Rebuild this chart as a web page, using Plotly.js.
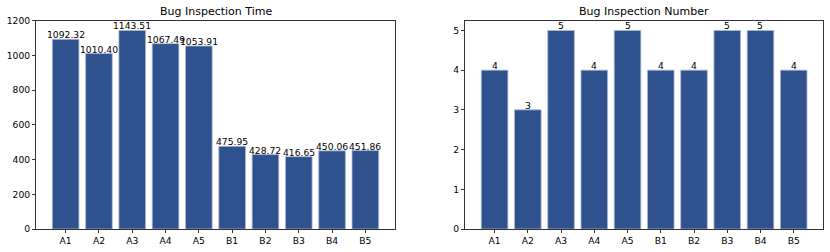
<!DOCTYPE html>
<html>
<head>
<meta charset="utf-8">
<script src="https://cdn.plot.ly/plotly-3.0.1.min.js"></script>
<style>html,body{margin:0;padding:0;background:#fff;}#chart{width:830px;height:252px;}</style>
</head>
<body>
<div id="chart"></div>
<script>
var categories = ["A1","A2","A3","A4","A5","B1","B2","B3","B4","B5"];
var inspectionTime = [1092.32, 1010.40, 1143.51, 1067.49, 1053.91, 475.95, 428.72, 416.65, 450.06, 451.86];
var inspectionNumber = [4, 3, 5, 4, 5, 4, 4, 5, 5, 4];
var titleTime = "Bug Inspection Time";
var titleNumber = "Bug Inspection Number";
var timeTicks = [0, 200, 400, 600, 800, 1000, 1200];
var numberTicks = [0, 1, 2, 3, 4, 5];

var barColor = "#2f518e";
var edgeColor = "#a9b9d3";
var fontFam = "DejaVu Sans, sans-serif";
var tickFont = {family: fontFam, size: 9.2, color: "#000"};

var xIdx = categories.map(function(_, i){ return i; });

var traces = [
  {type: "bar", x: xIdx, y: inspectionTime, xaxis: "x", yaxis: "y", width: 0.8,
   marker: {color: barColor, line: {color: edgeColor, width: 0.8}}, hoverinfo: "none"},
  {type: "bar", x: xIdx, y: inspectionNumber, xaxis: "x2", yaxis: "y2", width: 0.8,
   marker: {color: barColor, line: {color: edgeColor, width: 0.8}}, hoverinfo: "none"}
];

var annotations = [];
inspectionTime.forEach(function(v, i){
  annotations.push({x: i, y: v, xref: "x", yref: "y", text: v.toFixed(2), showarrow: false,
    yanchor: "bottom", xanchor: "center", yshift: -3, font: tickFont});
});
inspectionNumber.forEach(function(v, i){
  annotations.push({x: i, y: v, xref: "x2", yref: "y2", text: String(v), showarrow: false,
    yanchor: "bottom", xanchor: "center", yshift: -3, font: tickFont});
});
var topY = 1 - 20.5/252;
annotations.push({x: (0.0434+0.476)/2, y: topY, xref: "paper", yref: "paper", text: titleTime,
  showarrow: false, yanchor: "bottom", xanchor: "center", yshift: 1, font: {family: fontFam, size: 11, color: "#000"}});
annotations.push({x: (0.560+0.992)/2, y: topY, xref: "paper", yref: "paper", text: titleNumber,
  showarrow: false, yanchor: "bottom", xanchor: "center", yshift: 1, font: {family: fontFam, size: 11, color: "#000"}});

function xAxis(domain, anchor){
  return {domain: domain, anchor: anchor, range: [-0.89, 9.89], tickmode: "array",
    tickvals: xIdx, ticktext: categories, ticks: "outside", ticklen: 3.2, tickwidth: 0.8,
    tickcolor: "#000", showline: true, linecolor: "#000", linewidth: 0.8, mirror: true,
    showgrid: false, zeroline: false, tickfont: tickFont, fixedrange: true};
}
function yAxis(range, ticks, anchor){
  return {domain: [1 - 229/252, topY], anchor: anchor, range: range, tickmode: "array",
    tickvals: ticks, ticktext: ticks.map(String), ticks: "outside", ticklen: 3.2, tickwidth: 0.8,
    tickcolor: "#000", showline: true, linecolor: "#000", linewidth: 0.8, mirror: true,
    showgrid: false, zeroline: false, tickfont: tickFont, fixedrange: true};
}

var layout = {
  width: 830, height: 252,
  margin: {l: 0, r: 0, t: 0, b: 0},
  paper_bgcolor: "#fff", plot_bgcolor: "#fff",
  showlegend: false, bargap: 0,
  font: {family: fontFam, size: 9.2, color: "#000"},
  xaxis: xAxis([36/830, 395/830], "y"),
  yaxis: yAxis([0, 1200.7], timeTicks, "x"),
  xaxis2: xAxis([465/830, 823.3/830], "y2"),
  yaxis2: yAxis([0, 5.25], numberTicks, "x2"),
  annotations: annotations
};

Plotly.newPlot("chart", traces, layout, {staticPlot: true, displayModeBar: false});
</script>
</body>
</html>
